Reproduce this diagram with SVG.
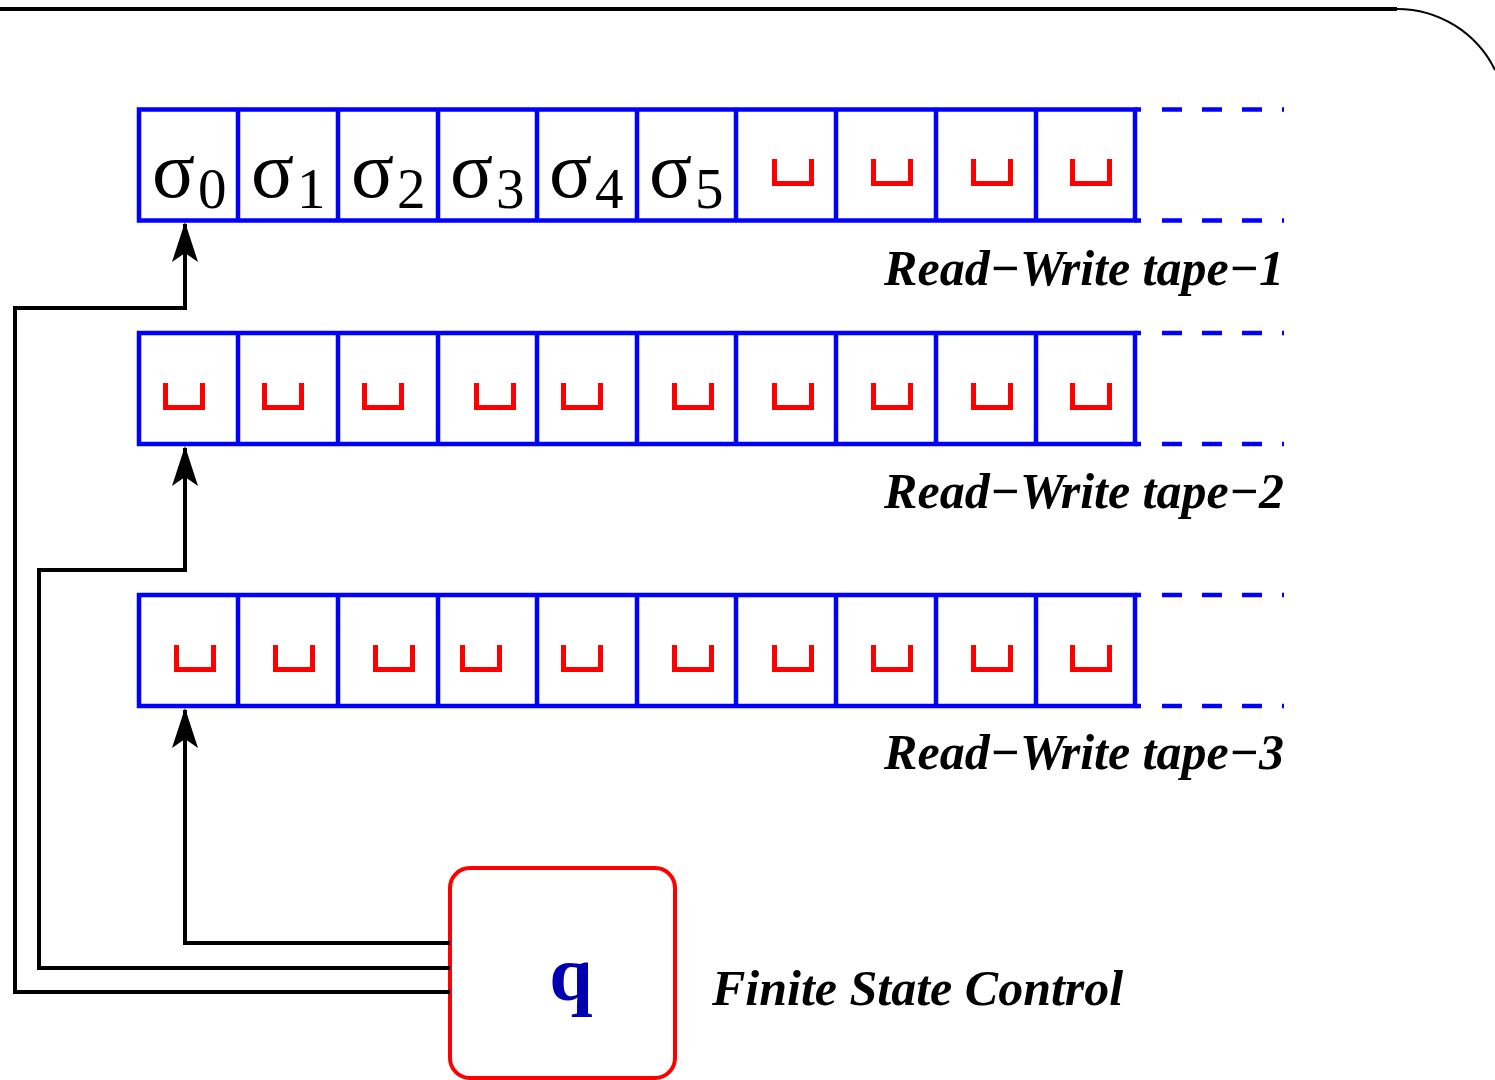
<svg xmlns="http://www.w3.org/2000/svg" width="1495" height="1080" viewBox="0 0 1495 1080">
  <style>
    .frame { fill: none; stroke: #000; }
    .cell { fill: #fff; stroke: #0000ff; stroke-width: 4.5; }
    .tapeline { stroke: #0000ff; stroke-width: 4.5; fill: none; }
    .dash { stroke: #0000ff; stroke-width: 4.5; stroke-dasharray: 20 20; fill: none; }
    .blank { fill: none; stroke: #ff0000; stroke-width: 5; stroke-linecap: butt; }
    .sym { font-family: "Liberation Serif", "DejaVu Serif", serif; fill: #000; }
    .sig { font-size: 80px; }
    .sub { font-size: 57px; }
    .label { font-family: "Liberation Serif", "DejaVu Serif", serif; font-style: italic; font-weight: bold; font-size: 50px; fill: #000; }
    .wire { fill: none; stroke: #000; stroke-width: 4; }
    .fsc { fill: #fff; stroke: #ff0000; stroke-width: 4; }
    .state { font-family: "Liberation Serif", "DejaVu Serif", serif; font-weight: bold; font-size: 78px; fill: #0000b0; }
  </style>
  <defs>
    <marker id="head" viewBox="0 0 40 26" refX="38" refY="13" markerWidth="40" markerHeight="26" markerUnits="userSpaceOnUse" orient="auto">
      <path d="M40,13 L0,0 L9,13 L0,26 Z" fill="#000"/>
    </marker>
    <!-- blank symbol shape, origin at top-left -->
    <path id="blk" class="blank" d="M2.5,0 V24.5 H39.5 V0"/>
    <!-- one row of ten tape cells plus the dashed continuation -->
    <g id="tape">
      <rect class="cell" x="139" y="0" width="996" height="111"/>
      <path class="tapeline" d="M238,0 V111 M338,0 V111 M438,0 V111 M537,0 V111 M637,0 V111 M736,0 V111 M836,0 V111 M936,0 V111 M1036,0 V111 M1135,0 H1141 M1135,111 H1141"/>
      <path class="dash" d="M1162,0 H1284 M1162,111 H1284"/>
    </g>
  </defs>

  <!-- page frame at the top -->
  <path class="frame" stroke-width="4" d="M0,9 H1397"/>
  <path class="frame" stroke-width="2" d="M1397,9 A109,109 0 0 1 1495,70"/>

  <!-- tape 1 -->
  <g id="tape1">
    <use href="#tape" y="109.5"/>
    <text class="sym" y="197"><tspan class="sig" x="152">σ</tspan><tspan class="sub" x="198" y="208">0</tspan></text>
    <text class="sym" y="197"><tspan class="sig" x="251">σ</tspan><tspan class="sub" x="297" y="208">1</tspan></text>
    <text class="sym" y="197"><tspan class="sig" x="351">σ</tspan><tspan class="sub" x="397" y="208">2</tspan></text>
    <text class="sym" y="197"><tspan class="sig" x="450">σ</tspan><tspan class="sub" x="496" y="208">3</tspan></text>
    <text class="sym" y="197"><tspan class="sig" x="549">σ</tspan><tspan class="sub" x="595" y="208">4</tspan></text>
    <text class="sym" y="197"><tspan class="sig" x="649">σ</tspan><tspan class="sub" x="695" y="208">5</tspan></text>
    <use href="#blk" x="772" y="159"/>
    <use href="#blk" x="871" y="159"/>
    <use href="#blk" x="971" y="159"/>
    <use href="#blk" x="1070" y="159"/>
    <text class="label" x="1284" y="285" text-anchor="end">Read−Write tape−1</text>
  </g>

  <!-- tape 2 -->
  <g id="tape2">
    <use href="#tape" y="333"/>
    <use href="#blk" x="163" y="383"/>
    <use href="#blk" x="262" y="383"/>
    <use href="#blk" x="362" y="383"/>
    <use href="#blk" x="474" y="383"/>
    <use href="#blk" x="561" y="383"/>
    <use href="#blk" x="672" y="383"/>
    <use href="#blk" x="772" y="383"/>
    <use href="#blk" x="871" y="383"/>
    <use href="#blk" x="971" y="383"/>
    <use href="#blk" x="1070" y="383"/>
    <text class="label" x="1284" y="508" text-anchor="end">Read−Write tape−2</text>
  </g>

  <!-- tape 3 -->
  <g id="tape3">
    <use href="#tape" y="595"/>
    <use href="#blk" x="174" y="645"/>
    <use href="#blk" x="273" y="645"/>
    <use href="#blk" x="373" y="645"/>
    <use href="#blk" x="460" y="645"/>
    <use href="#blk" x="561" y="645"/>
    <use href="#blk" x="672" y="645"/>
    <use href="#blk" x="772" y="645"/>
    <use href="#blk" x="871" y="645"/>
    <use href="#blk" x="971" y="645"/>
    <use href="#blk" x="1070" y="645"/>
    <text class="label" x="1284" y="769" text-anchor="end">Read−Write tape−3</text>
  </g>

  <!-- finite state control -->
  <g id="control">
    <rect class="fsc" x="450" y="868" width="225" height="210" rx="20" ry="20"/>
    <text class="state" x="571" y="1000" text-anchor="middle">q</text>
    <text class="label" x="712" y="1005" font-size="52">Finite State Control</text>
  </g>

  <!-- read/write heads -->
  <g id="connectors">
    <path class="wire" d="M450,992 H15 V308 H185 V224" marker-end="url(#head)"/>
    <path class="wire" d="M450,968 H39 V570 H185 V448" marker-end="url(#head)"/>
    <path class="wire" d="M450,943 H185 V710" marker-end="url(#head)"/>
  </g>
</svg>
